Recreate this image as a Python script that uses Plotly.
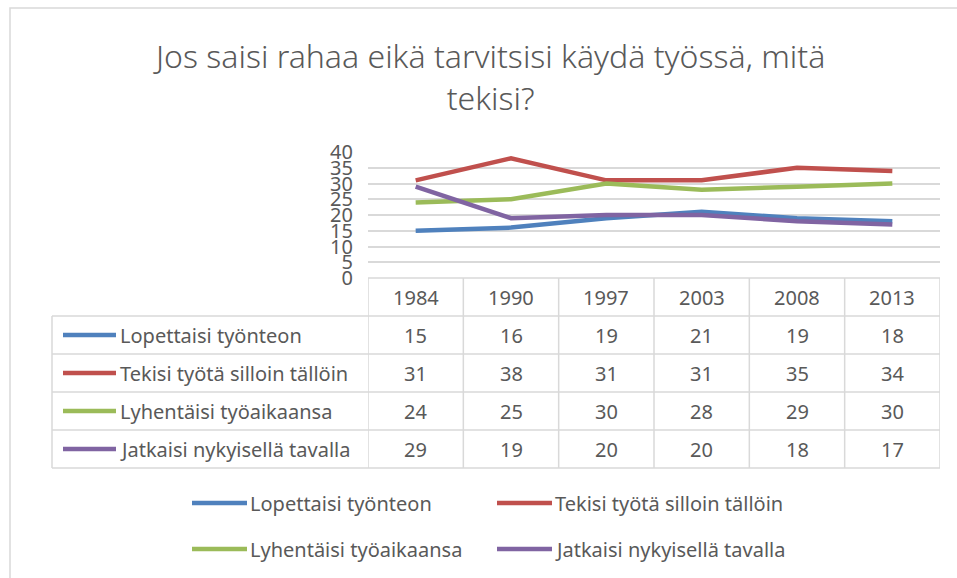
import plotly.graph_objects as go

years = ["1984", "1990", "1997", "2003", "2008", "2013"]
series_names = [
    "Lopettaisi työnteon",
    "Tekisi työtä silloin tällöin",
    "Lyhentäisi työaikaansa",
    "Jatkaisi nykyisellä tavalla",
]
lopettaisi = [15, 16, 19, 21, 19, 18]
tekisi = [31, 38, 31, 31, 35, 34]
lyhentaisi = [24, 25, 30, 28, 29, 30]
jatkaisi = [29, 19, 20, 20, 18, 17]
colors = ["#4F81BD", "#C0504D", "#9BBB59", "#8064A2"]

values = [lopettaisi, tekisi, lyhentaisi, jatkaisi]

W, H = 957, 578
FONT = "Noto Sans"
TXT = "#595959"
GRID = "#D9D9D9"


def xp(px):
    return px / W


def yp(py):
    return 1 - py / H


fig = go.Figure()
idx = list(range(len(years)))
for name, vals, col in zip(series_names, values, colors):
    fig.add_trace(go.Scatter(x=idx, y=vals, mode="lines", name=name,
                             line=dict(color=col, width=4.5), showlegend=False))

shapes = []
annotations = []


def label(x, y, text, xref="paper", xanchor="center", size=20, weight="normal"):
    annotations.append(dict(x=x, xref=xref, y=y, yref="paper", text=text,
                            showarrow=False, xanchor=xanchor, yanchor="middle",
                            font=dict(family=FONT, size=size, color=TXT, weight=weight)))


# data table under the plot (pixels)
header_top, row_h, header_h = 278, 38, 38
row_tops = [header_top + header_h + i * row_h for i in range(len(series_names) + 1)]
label_left = 52

shapes.append(dict(type="line", xref="x", yref="paper", x0=-0.5, x1=len(years) - 0.5,
                   y0=yp(header_top), y1=yp(header_top), line=dict(color=GRID, width=1.5)))
for i in range(len(years) + 1):
    shapes.append(dict(type="line", xref="x", yref="paper", x0=i - 0.5, x1=i - 0.5,
                       y0=yp(header_top), y1=yp(row_tops[-1]), line=dict(color=GRID, width=1.5)))
for t in row_tops:
    shapes.append(dict(type="line", xref="paper", yref="paper", x0=xp(label_left), x1=xp(940),
                       y0=yp(t), y1=yp(t), line=dict(color=GRID, width=1.5)))
shapes.append(dict(type="line", xref="paper", yref="paper", x0=xp(label_left), x1=xp(label_left),
                   y0=yp(row_tops[0]), y1=yp(row_tops[-1]), line=dict(color=GRID, width=1.5)))

for i, yr in enumerate(years):
    label(i, yp(header_top + header_h / 2), yr, xref="x")

for r, (name, vals, col) in enumerate(zip(series_names, values, colors)):
    cy = row_tops[r] + row_h / 2
    shapes.append(dict(type="line", xref="paper", yref="paper", x0=xp(63), x1=xp(116),
                       y0=yp(cy), y1=yp(cy), line=dict(color=col, width=4.5)))
    label(xp(118), yp(cy), name, xanchor="left")
    for i, v in enumerate(vals):
        label(i, yp(cy), str(v), xref="x")

# legend at the bottom
leg_pos = [(192, 503), (497, 503), (192, 549), (497, 549)]
for (lx, ly), name, col in zip(leg_pos, series_names, colors):
    shapes.append(dict(type="line", xref="paper", yref="paper", x0=xp(lx), x1=xp(lx + 55),
                       y0=yp(ly), y1=yp(ly), line=dict(color=col, width=4.5)))
    label(xp(lx + 56), yp(ly), name, xanchor="left")

# title
label(xp(489), yp(77), "Jos saisi rahaa eikä tarvitsisi käydä työssä, mitä<br>tekisi?",
      size=32, weight=300)

# chart frame
shapes.append(dict(type="rect", xref="paper", yref="paper", x0=xp(10), x1=xp(970),
                   y0=yp(8), y1=yp(600), line=dict(color=GRID, width=1.5)))

fig.update_layout(
    width=W, height=H,
    margin=dict(l=0, r=0, t=0, b=0, pad=0),
    paper_bgcolor="white", plot_bgcolor="white",
    shapes=shapes, annotations=annotations,
    xaxis=dict(domain=[xp(368), xp(940)], range=[-0.5, len(years) - 0.5],
               showgrid=False, showticklabels=False, zeroline=False, automargin=False),
    yaxis=dict(domain=[yp(278), yp(152)], range=[0, 40], dtick=5, automargin=False,
               showgrid=True, gridcolor=GRID, gridwidth=1.5, zeroline=False,
               ticks="", ticklabelstandoff=14,
               tickfont=dict(family=FONT, size=20, color=TXT)),
)

fig.write_html("out.html", config={"displayModeBar": False},
               post_script="document.body.style.margin='0';document.body.style.overflow='hidden';")
